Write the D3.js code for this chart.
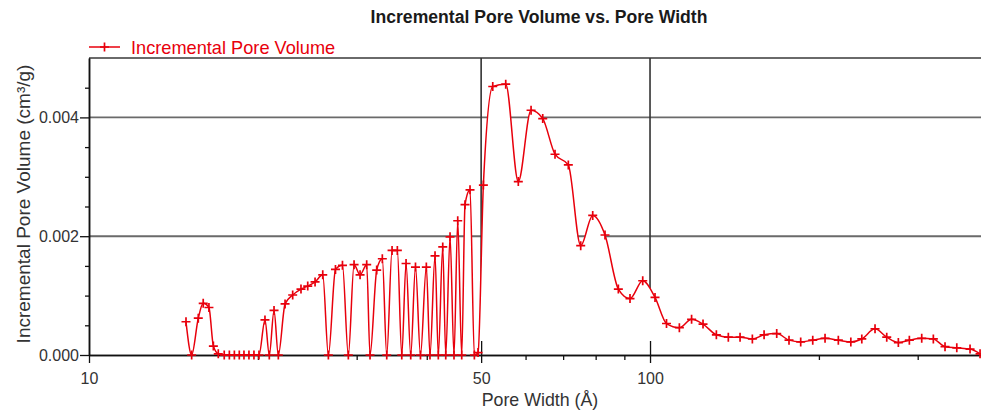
<!DOCTYPE html>
<html>
<head>
<meta charset="utf-8">
<script src="https://cdn.jsdelivr.net/npm/d3@7"></script>
<style>
  html, body { margin: 0; padding: 0; background: #fff; }
  svg { display: block; font-family: "Liberation Sans", Arial, Helvetica, sans-serif; }
</style>
</head>
<body>
<svg id="chart" width="981" height="411"></svg>
<script>
// ---- Data ----
const poreWidths = [
  14.89, 15.24, 15.66, 15.98, 16.36, 16.66, 17.00, 17.42, 17.79, 18.16,
  18.53, 18.89, 19.28, 19.68, 20.09, 20.59, 20.96, 21.37, 21.75, 22.36,
  23.07, 23.87, 24.54, 25.29, 26.10, 26.71, 27.50, 28.30, 28.99, 29.68,
  30.42, 31.26, 31.69, 32.57, 33.33, 33.94, 34.69, 35.45, 36.10, 36.74,
  37.45, 38.19, 38.98, 39.93, 40.53, 41.38, 41.94, 42.71, 43.24, 44.01,
  44.73, 45.42, 46.17, 46.80, 47.77, 48.63, 49.37, 50.46, 52.44, 55.31,
  58.24, 61.37, 64.38, 67.71, 71.51, 75.24, 79.04, 83.13, 87.81, 92.11,
  97.05, 102.07, 107.0, 112.8, 118.6, 124.3, 131.3, 137.9, 144.7, 152.2,
  159.7, 168.2, 176.9, 185.6, 195.0, 205.1, 216.6, 228.0, 238.5, 251.8,
  264.2, 277.1, 289.9, 305.0, 319.9, 335.6, 352.2, 371.9, 387.5
];
const incrementalVolumes = [
  0.00056, 0, 0.00062, 0.00087, 0.00080, 0.00015, 0.00002, 0, 0, 0,
  0, 0, 0, 0, 0, 0.00059, 0, 0.00075, 0, 0.00086,
  0.00101, 0.00111, 0.00116, 0.00123, 0.00135, 0, 0.00144, 0.00151, 0, 0.00152,
  0.00135, 0.00152, 0, 0.00143, 0.00162, 0, 0.00176, 0.00176, 0, 0.00154,
  0, 0.00148, 0, 0.00148, 0, 0.00167, 0, 0.00182, 0, 0.00199,
  0, 0.00226, 0, 0.00253, 0.00278, 0, 0.00004, 0.00286, 0.00452, 0.00456,
  0.00292, 0.00412, 0.00398, 0.00338, 0.00320, 0.00184, 0.00235, 0.00202, 0.00111, 0.00095,
  0.00125, 0.00097, 0.00053, 0.00046, 0.00060, 0.00052, 0.00034, 0.00030, 0.00030, 0.00027,
  0.00034, 0.00036, 0.00025, 0.00022, 0.00025, 0.00028, 0.00025, 0.00022, 0.00027, 0.00044,
  0.00030, 0.00021, 0.00025, 0.00028, 0.00027, 0.00014, 0.00012, 0.00010, 0.00002
];
const xDomain = [10, 389];
const yDomain = [0, 0.005];
const xMajorTicks = [10, 50, 100];
const xMinorTicks = [20, 30, 40, 60, 70, 80, 90, 200, 300];
const xGridValues = [50, 100];
const yMajorTicks = [0, 0.002, 0.004];
const yMinorTicks = [0.0005, 0.001, 0.0015, 0.0025, 0.003, 0.0035, 0.0045];
const yGridValues = [0.002, 0.004, 0.005];

const titleText = "Incremental Pore Volume vs. Pore Width";
const seriesName = "Incremental Pore Volume";
const xLabel = "Pore Width (Å)";
const yLabel = "Incremental Pore Volume (cm³/g)";

// ---- Layout / style ----
const plot = { left: 89, right: 981, top: 58, bottom: 355 };
const RED = "#e8000c";
const TXT = "#333";

const data = poreWidths.map((w, i) => ({ w, v: incrementalVolumes[i] }));

const svg = d3.select("#chart");
const x = d3.scaleLog().domain(xDomain).range([plot.left, plot.right]);
const y = d3.scaleLinear().domain(yDomain).range([plot.bottom, plot.top]);

// Grid lines
svg.append("g").selectAll("line").data(yGridValues).join("line")
  .attr("x1", plot.left).attr("x2", plot.right)
  .attr("y1", d => y(d)).attr("y2", d => y(d))
  .attr("stroke", "#6a6a6a").attr("stroke-width", 1.9);
svg.append("g").selectAll("line").data(xGridValues).join("line")
  .attr("x1", d => x(d)).attr("x2", d => x(d))
  .attr("y1", plot.top).attr("y2", plot.bottom)
  .attr("stroke", "#333").attr("stroke-width", 1.6);

// White area beneath the curve (covers grid lines as in the reference)
const curve = d3.curveMonotoneX;
svg.append("path").datum(data)
  .attr("d", d3.area().x(d => x(d.w)).y0(y(0)).y1(d => y(d.v)).curve(curve))
  .attr("fill", "#fff");

// Axes
function styleAxis(g) {
  g.selectAll(".domain").attr("stroke", "#111").attr("stroke-width", 1.5);
  g.selectAll(".tick line").attr("stroke", "#111").attr("stroke-width", 1.3);
  g.selectAll(".tick text").attr("fill", TXT).style("font-size", "16px")
    .style("font-family", '"Liberation Sans", Arial, sans-serif');
}
svg.append("g").attr("transform", `translate(0,${plot.bottom})`)
  .call(d3.axisBottom(x).tickValues(xMinorTicks).tickSize(5).tickSizeOuter(0).tickFormat(""))
  .call(styleAxis);
svg.append("g").attr("transform", `translate(0,${plot.bottom})`)
  .call(d3.axisBottom(x).tickValues(xGridValues).tickSize(-14).tickSizeOuter(0).tickFormat(""))
  .call(g => g.select(".domain").remove())
  .call(styleAxis);
svg.append("g").attr("transform", `translate(0,${plot.bottom})`)
  .call(d3.axisBottom(x).tickValues(xMajorTicks).tickSize(8).tickPadding(9.5).tickSizeOuter(0)
    .tickFormat(d3.format("d")))
  .call(styleAxis);
svg.append("g").attr("transform", `translate(${plot.left},0)`)
  .call(d3.axisLeft(y).tickValues(yMinorTicks).tickSize(4).tickSizeOuter(0).tickFormat(""))
  .call(styleAxis);
svg.append("g").attr("transform", `translate(${plot.left},0)`)
  .call(d3.axisLeft(y).tickValues(yMajorTicks).tickSize(9).tickPadding(1).tickSizeOuter(0)
    .tickFormat(d3.format(".3f")))
  .call(styleAxis);

// Series line
svg.append("path").datum(data)
  .attr("d", d3.line().x(d => x(d.w)).y(d => y(d.v)).curve(curve))
  .attr("fill", "none").attr("stroke", RED).attr("stroke-width", 1.5);

// Markers (+)
const plusPath = "M-4.5,0H4.5M0,-4.5V4.5";
svg.append("g").selectAll("path").data(data).join("path")
  .attr("transform", d => `translate(${x(d.w)},${y(d.v)})`)
  .attr("d", plusPath)
  .attr("stroke", RED).attr("stroke-width", 1.7).attr("fill", "none");

// Title
svg.append("text").attr("x", 539).attr("y", 23).attr("text-anchor", "middle")
  .attr("fill", "#1a1a1a").style("font-size", "17.6px").style("font-weight", "bold")
  .text(titleText);

// Legend
const lg = svg.append("g").attr("transform", "translate(89,47)");
lg.append("line").attr("x1", 0).attr("x2", 31).attr("y1", 0).attr("y2", 0)
  .attr("stroke", RED).attr("stroke-width", 1.5);
lg.append("path").attr("transform", "translate(15.5,0)").attr("d", plusPath)
  .attr("stroke", RED).attr("stroke-width", 1.7);
lg.append("text").attr("x", 42).attr("y", 6.5).attr("fill", RED)
  .style("font-size", "18.2px").text(seriesName);

// Axis titles
svg.append("text").attr("x", 540).attr("y", 406).attr("text-anchor", "middle")
  .attr("fill", TXT).style("font-size", "17.8px").text(xLabel);
svg.append("text").attr("transform", "translate(30,204) rotate(-90)")
  .attr("text-anchor", "middle").attr("fill", TXT).style("font-size", "19px")
  .text(yLabel);
</script>
</body>
</html>
